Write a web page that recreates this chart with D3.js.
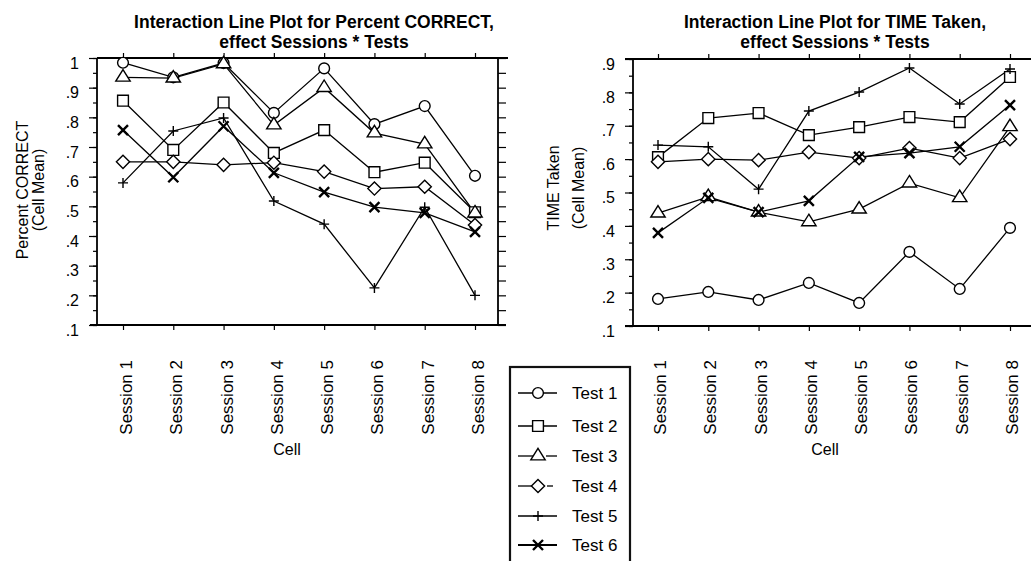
<!DOCTYPE html>
<html>
<head>
<meta charset="utf-8">
<script src="https://cdn.jsdelivr.net/npm/d3@7"></script>
<style>
  html, body { margin: 0; padding: 0; background: #fff; }
  svg { display: block; font-family: "Liberation Sans", Arial, Helvetica, sans-serif; }
</style>
</head>
<body>
<svg id="chart" width="1031" height="561"></svg>
<script>
// Cell labels and test names
const sessions = ["Session 1", "Session 2", "Session 3", "Session 4", "Session 5", "Session 6", "Session 7", "Session 8"];
const tests = ["Test 1", "Test 2", "Test 3", "Test 4", "Test 5", "Test 6"];

// Percent CORRECT, cell means per test
const correctTest1 = [0.984, 0.935, 0.983, 0.815, 0.965, 0.777, 0.838, 0.603];
const correctTest2 = [0.856, 0.690, 0.850, 0.680, 0.757, 0.615, 0.647, 0.480];
const correctTest3 = [0.935, 0.932, 0.980, 0.774, 0.900, 0.747, 0.710, 0.477];
const correctTest4 = [0.650, 0.650, 0.640, 0.647, 0.617, 0.560, 0.566, 0.437];
const correctTest5 = [0.579, 0.754, 0.798, 0.518, 0.440, 0.225, 0.497, 0.200];
const correctTest6 = [0.757, 0.598, 0.770, 0.613, 0.548, 0.497, 0.478, 0.414];

// TIME Taken, cell means per test
const timeTest1 = [0.181, 0.202, 0.178, 0.229, 0.169, 0.322, 0.211, 0.394];
const timeTest2 = [0.606, 0.723, 0.738, 0.672, 0.696, 0.726, 0.711, 0.846];
const timeTest3 = [0.438, 0.487, 0.441, 0.412, 0.450, 0.528, 0.484, 0.697];
const timeTest4 = [0.592, 0.600, 0.597, 0.621, 0.603, 0.633, 0.603, 0.660];
const timeTest5 = [0.642, 0.637, 0.510, 0.744, 0.801, 0.873, 0.765, 0.870];
const timeTest6 = [0.379, 0.484, 0.441, 0.475, 0.607, 0.618, 0.637, 0.762];

// Axis tick labels
const correctTickLabels = [".1", ".2", ".3", ".4", ".5", ".6", ".7", ".8", ".9", "1"];
const timeTickLabels = [".1", ".2", ".3", ".4", ".5", ".6", ".7", ".8", ".9"];

const correctSeries = [correctTest1, correctTest2, correctTest3, correctTest4, correctTest5, correctTest6];
const timeSeries = [timeTest1, timeTest2, timeTest3, timeTest4, timeTest5, timeTest6];

const svg = d3.select("#chart");
const FONT = "Liberation Sans, Arial, Helvetica, sans-serif";

// Marker shapes, one per test
const markerKinds = ["circle", "square", "triangle", "diamond", "plus", "cross"];
function markerPath(kind) {
  switch (kind) {
    case "circle": { const r = 5.4; return `M${r},0A${r},${r} 0 1,1 ${-r},0A${r},${r} 0 1,1 ${r},0Z`; }
    case "square": { const s = 5.4; return `M${-s},${-s}H${s}V${s}H${-s}Z`; }
    case "triangle": { const w = 7.2, h = 11.5; return `M0,${-h * 2 / 3}L${w},${h / 3}L${-w},${h / 3}Z`; }
    case "diamond": { const d = 6.6; return `M0,${-d}L${d},0L0,${d}L${-d},0Z`; }
    case "plus": { const p = 5; return `M${-p},0H${p}M0,${-p}V${p}`; }
    case "cross": { const c = 5; return `M${-c},${-c}L${c},${c}M${c},${-c}L${-c},${c}`; }
  }
}
function styleMarker(sel, kind) {
  sel.attr("d", markerPath(kind))
    .attr("fill", (kind === "plus" || kind === "cross") ? "none" : "#fff")
    .attr("stroke", "#000")
    .attr("stroke-width", kind === "cross" ? 2.4 : 1.4);
}

const labelFmt = (labels, domainMin) => (d) => labels[Math.round((d - domainMin) * 10)];

function drawPanel(cfg) {
  const g = svg.append("g");
  const x = d3.scalePoint().domain(sessions).range([cfg.x1, cfg.x8]);
  const y = d3.scaleLinear().domain(cfg.domain).range([cfg.bottom, cfg.top]);

  const majors = d3.range(cfg.domain[0] * 10, cfg.domain[1] * 10 + 0.5).map(v => v / 10);
  const minors = d3.range(cfg.domain[0] * 20, cfg.domain[1] * 20 + 0.5).map(v => v / 20);

  // left axis: minor + major ticks, labels sit a little below their tick
  const left = g.append("g").attr("transform", `translate(${cfg.axisX},0)`);
  left.call(d3.axisLeft(y).tickValues(minors).tickSize(4).tickSizeOuter(0).tickFormat(""));
  left.call(g2 => g2.select(".domain").remove());
  const leftMaj = g.append("g").attr("transform", `translate(${cfg.axisX},0)`)
    .call(d3.axisLeft(y).tickValues(majors).tickSize(8).tickSizeOuter(0)
      .tickFormat(labelFmt(cfg.tickLabels, cfg.domain[0])));
  leftMaj.select(".domain").remove();
  leftMaj.selectAll("text")
    .attr("x", cfg.labelRight - cfg.axisX)
    .attr("dy", "0.32em")
    .attr("transform", "translate(0,5)")
    .style("font-size", "16px").style("font-family", FONT).attr("fill", "#000");

  // right axis ticks (left panel only)
  if (cfg.rightX) {
    const right = g.append("g").attr("transform", `translate(${cfg.rightX},0)`)
      .call(d3.axisRight(y).tickValues(minors).tickSize(8).tickSizeOuter(0).tickFormat(""));
    right.select(".domain").remove();
  }

  // top and bottom ticks at each cell
  const topAx = g.append("g").attr("transform", `translate(0,${cfg.top})`)
    .call(d3.axisTop(x).tickSize(5).tickSizeOuter(0).tickFormat(""));
  topAx.select(".domain").remove();
  const botAx = g.append("g").attr("transform", `translate(0,${cfg.bottom})`)
    .call(d3.axisBottom(x).tickSize(5).tickSizeOuter(0));
  botAx.select(".domain").remove();
  botAx.selectAll("text")
    .attr("y", 0).attr("dy", null)
    .attr("text-anchor", "end")
    .attr("dominant-baseline", "central")
    .attr("transform", `translate(${cfg.labelShift},${cfg.sessionTop - cfg.bottom}) rotate(-90)`)
    .style("font-size", "17px").style("font-family", FONT).attr("fill", "#000");
  g.selectAll(".tick line").attr("stroke", "#000").attr("stroke-width", 1.2);

  // frame lines
  const frame = g.append("g").attr("stroke", "#000").attr("stroke-width", 1.8);
  frame.append("line").attr("x1", cfg.topFrom).attr("x2", cfg.topTo).attr("y1", cfg.top).attr("y2", cfg.top);
  frame.append("line").attr("x1", cfg.botFrom).attr("x2", cfg.botTo).attr("y1", cfg.bottom).attr("y2", cfg.bottom);
  frame.append("line").attr("x1", cfg.axisX).attr("x2", cfg.axisX).attr("y1", cfg.top).attr("y2", cfg.bottom);
  if (cfg.rightX) frame.append("line").attr("x1", cfg.rightX).attr("x2", cfg.rightX).attr("y1", cfg.top).attr("y2", cfg.bottom);

  // titles
  const title = g.append("text").attr("text-anchor", "middle")
    .style("font-family", FONT).style("font-size", "17.5px").style("font-weight", "bold");
  title.append("tspan").attr("x", cfg.titleX).attr("y", 28).text(cfg.title1);
  title.append("tspan").attr("x", cfg.titleX).attr("y", 48).text(cfg.title2);

  // y axis title (two centred lines)
  cfg.yTitle.forEach((t, i) => {
    g.append("text")
      .attr("transform", `translate(${cfg.yTitleX[i]},${cfg.yTitleY}) rotate(-90)`)
      .attr("text-anchor", "middle").attr("dominant-baseline", "central")
      .style("font-family", FONT).style("font-size", "16px").text(t);
  });

  g.append("text").attr("x", cfg.cellX).attr("y", cfg.cellY)
    .attr("text-anchor", "middle").attr("dominant-baseline", "central")
    .style("font-family", FONT).style("font-size", "16px").text("Cell");

  // series lines, then markers
  const line = d3.line().x((d, i) => x(sessions[i])).y(d => y(d));
  cfg.series.forEach((vals) => {
    g.append("path").datum(vals).attr("d", line)
      .attr("fill", "none").attr("stroke", "#000").attr("stroke-width", 1.3);
  });
  cfg.series.forEach((vals, k) => {
    g.append("g").selectAll("path").data(vals).join("path")
      .attr("transform", (d, i) => `translate(${x(sessions[i])},${y(d)})`)
      .call(styleMarker, markerKinds[k]);
  });
}

drawPanel({
  series: correctSeries, domain: [0.1, 1.0], tickLabels: correctTickLabels,
  x1: 123, x8: 475, top: 58, bottom: 325, axisX: 97, rightX: 498, labelRight: 79,
  topFrom: 97, topTo: 508, botFrom: 90, botTo: 506,
  sessionTop: 360, labelShift: 3,
  titleX: 314, title1: "Interaction Line Plot for Percent CORRECT,", title2: "effect Sessions * Tests",
  yTitle: ["Percent CORRECT", "(Cell Mean)"], yTitleX: [22, 38], yTitleY: 190,
  cellX: 287, cellY: 449
});

drawPanel({
  series: timeSeries, domain: [0.1, 0.9], tickLabels: timeTickLabels,
  x1: 658, x8: 1010, top: 59, bottom: 326, axisX: 633, rightX: null, labelRight: 615,
  topFrom: 625, topTo: 1031, botFrom: 625, botTo: 1031,
  sessionTop: 360, labelShift: 2,
  titleX: 835, title1: "Interaction Line Plot for TIME Taken,", title2: "effect Sessions * Tests",
  yTitle: ["TIME Taken", "(Cell Mean)"], yTitleX: [553, 578], yTitleY: 188,
  cellX: 825, cellY: 449
});

// legend
const legendRows = [393, 426, 456, 486, 516, 545];
const legend = svg.append("g");
legend.append("rect").attr("x", 510).attr("y", 367).attr("width", 120).attr("height", 210)
  .attr("fill", "#fff").attr("stroke", "#111").attr("stroke-width", 2.2);
tests.forEach((t, k) => {
  const yy = legendRows[k];
  const segs = k === 2 ? [[518, 537], [546, 557]] : k === 3 ? [[518, 537], [547, 553]] : [[518, 557]];
  segs.forEach(s => legend.append("line").attr("x1", s[0]).attr("x2", s[1]).attr("y1", yy).attr("y2", yy)
    .attr("stroke", "#000").attr("stroke-width", k === 5 ? 2.2 : 1.3));
  legend.append("path").attr("transform", `translate(538,${yy})`).call(styleMarker, markerKinds[k]);
  legend.append("text").attr("x", 572).attr("y", yy).attr("dominant-baseline", "central")
    .style("font-family", FONT).style("font-size", "17px").text(t);
});
</script>
</body>
</html>
